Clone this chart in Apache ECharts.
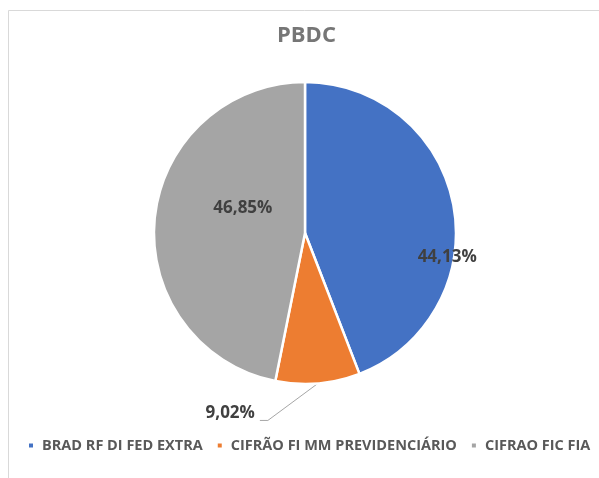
<!DOCTYPE html>
<html><head><meta charset="utf-8">
<script src="https://cdn.jsdelivr.net/npm/echarts@6/dist/echarts.min.js"></script>
<style>html,body{margin:0;padding:0;background:#fff}#c{width:599px;height:478px}</style>
</head><body><div id="c"></div>
<script>
const categories = ['BRAD RF DI FED EXTRA', 'CIFRÃO FI MM PREVIDENCIÁRIO', 'CIFRAO FIC FIA'];
const values = [44.13, 9.02, 46.85];
const colors = ['#4472C4', '#ED7D31', '#A5A5A5'];
const labelOffsets = [[65, 39], null, [16, -17]];

const chart = echarts.init(document.getElementById('c'), null, {renderer: 'canvas'});
const FONT = '"Open Sans", sans-serif';
chart.setOption({
  animation: false,
  backgroundColor: '#fff',
  graphic: [{type: 'rect', shape: {x: 8.5, y: 10.5, width: 620, height: 500}, style: {fill: 'none', stroke: '#d9d9d9', lineWidth: 1}, z: -1}],
  title: {text: 'PBDC', left: 277, top: 25, padding: 0, textStyle: {fontFamily: FONT, fontSize: 22, fontWeight: 'bold', color: '#767676'}},
  legend: {
    top: 438, left: 27, padding: 0, itemWidth: 6, itemHeight: 6, itemGap: 13, icon: 'rect',
    textStyle: {fontFamily: FONT, fontSize: 14.5, fontWeight: 'bold', color: '#595959', padding: [0, 0, 0, 3]},
    data: categories
  },
  series: [{
    type: 'pie', center: [305, 233], radius: 151, startAngle: 90, clockwise: true,
    itemStyle: {borderColor: '#fff', borderWidth: 2.5},
    label: {
      position: 'inside', fontFamily: FONT, fontSize: 17, fontWeight: 'bold', color: '#404040',
      formatter: p => p.value.toFixed(2).replace('.', ',') + '%'
    },
    labelLine: {show: false},
    labelLayout: p => {
      if (p.dataIndex !== 1 || !p.labelLinePoints) return {};
      const s = p.labelLinePoints[0];
      return {
        x: s[0] - 63, y: s[1] + 30, align: 'right', verticalAlign: 'middle',
        labelLinePoints: [[s[0], s[1]], [s[0] - 50, s[1] + 37], [s[0] - 58, s[1] + 37]]
      };
    },
    data: categories.map((n, i) => {
      const d = {name: n, value: values[i], itemStyle: {color: colors[i]}};
      if (labelOffsets[i]) d.label = {offset: labelOffsets[i]};
      else {
        d.label = {position: 'outside', distance: 4};
        d.labelLine = {show: true, length: 30, length2: 10, lineStyle: {color: '#a6a6a6', width: 1}};
      }
      return d;
    })
  }]
});
</script></body></html>
